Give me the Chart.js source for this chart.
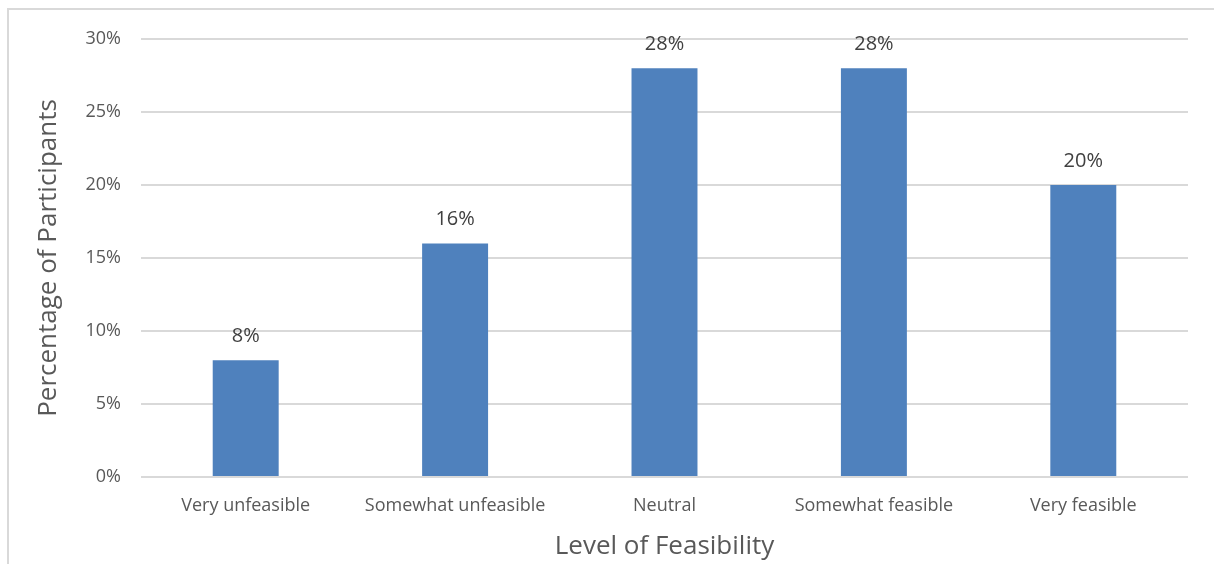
<!DOCTYPE html>
<html>
<head>
<meta charset="utf-8">
<script src="https://cdn.jsdelivr.net/npm/chart.js@4/dist/chart.umd.min.js"></script>
<style>
  html, body { margin: 0; padding: 0; background: #ffffff; }
  #wrap { position: relative; width: 1214px; height: 564px; overflow: hidden; }
  #frame { position: absolute; left: 7px; top: 8px; width: 1220px; height: 570px;
           border-top: 2px solid #d9d9d9; border-left: 2px solid #d9d9d9; box-sizing: border-box; }
  canvas { position: absolute; left: 0; top: 0; }
</style>
</head>
<body>
<div id="wrap">
  <div id="frame"></div>
  <canvas id="chart" width="1214" height="564"></canvas>
</div>
<script>
// Survey responses: share of participants per feasibility rating
const categories = ['Very unfeasible', 'Somewhat unfeasible', 'Neutral', 'Somewhat feasible', 'Very feasible'];
const percentages = [8, 16, 28, 28, 20];
const yTicks = [0, 5, 10, 15, 20, 25, 30];

const FONT = "'Open Sans', 'DejaVu Sans', sans-serif";

// Writes the value above each bar
const barValueLabels = {
  id: 'barValueLabels',
  afterDatasetsDraw(chart) {
    const ctx = chart.ctx;
    const meta = chart.getDatasetMeta(0);
    ctx.save();
    ctx.font = "20px " + FONT;
    ctx.fillStyle = '#404040';
    ctx.textAlign = 'center';
    ctx.textBaseline = 'middle';
    meta.data.forEach((bar, i) => {
      ctx.fillText(percentages[i] + '%', bar.x, bar.y - 24);
    });
    ctx.restore();
  }
};

new Chart(document.getElementById('chart'), {
  type: 'bar',
  data: {
    labels: categories,
    datasets: [{
      data: percentages,
      backgroundColor: '#4f81bd',
      borderWidth: 0,
      categoryPercentage: 1,
      barPercentage: 0.315
    }]
  },
  options: {
    responsive: false,
    animation: false,
    events: [],
    layout: { padding: { top: 39, right: 26, left: 0, bottom: 0 } },
    plugins: {
      legend: { display: false },
      tooltip: { enabled: false }
    },
    scales: {
      x: {
        grid: { display: false, drawTicks: false },
        border: { display: false },
        ticks: { color: '#595959', font: { family: FONT, size: 18 }, padding: 18, maxRotation: 0 },
        title: {
          display: true,
          text: 'Level of Feasibility',
          color: '#595959',
          font: { family: FONT, size: 26 },
          padding: { top: 0, bottom: 2 }
        },
        afterFit(scale) { scale.height = 87; }
      },
      y: {
        min: 0,
        max: 30,
        afterBuildTicks(scale) { scale.ticks = yTicks.map(v => ({ value: v })); },
        grid: { color: '#d9d9d9', lineWidth: 2, drawTicks: false },
        border: { display: false },
        ticks: {
          color: '#595959',
          font: { family: FONT, size: 18 },
          padding: 20,
          callback: v => v + '%'
        },
        title: {
          display: true,
          text: 'Percentage of Participants',
          color: '#595959',
          font: { family: FONT, size: 26 },
          padding: { top: 33, bottom: 0 }
        },
        afterFit(scale) { scale.width = 141; }
      }
    }
  },
  plugins: [barValueLabels]
});
</script>
</body>
</html>
